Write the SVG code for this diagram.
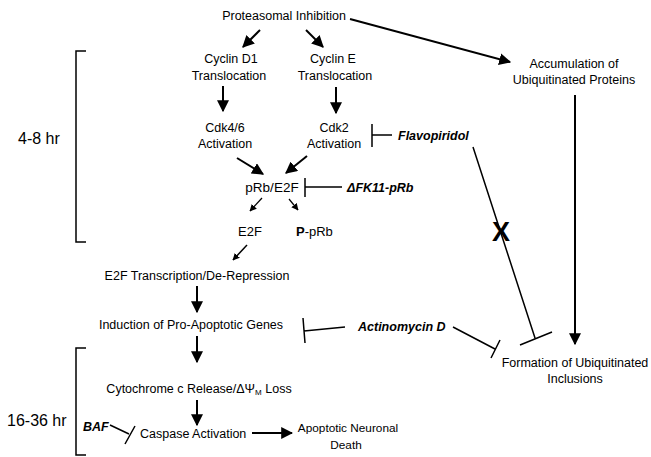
<svg xmlns="http://www.w3.org/2000/svg" width="651" height="457" viewBox="0 0 651 457">
<defs>
<style>
text{font-family:"Liberation Sans",Arial,sans-serif;font-size:12.5px;fill:#000}
.c{text-anchor:middle}
.bi{font-weight:bold;font-style:italic}
.big{font-size:13.5px}
.med{font-size:13px}
.sm{font-size:11.8px}
.hr{font-size:16px}
.sub{font-size:8px}
.xx{font-size:27px;font-weight:bold}
.ln{stroke:#000;stroke-width:2;fill:none}
.th{stroke:#000;stroke-width:1.5;fill:none}
.thin{stroke:#000;stroke-width:1.2;fill:none}
</style>
<marker id="ahL" viewBox="0 0 10 10" refX="9" refY="5" markerWidth="12" markerHeight="12" markerUnits="userSpaceOnUse" orient="auto">
<path d="M0,0 L10,5 L0,10 Z" fill="#000"/>
</marker>
<marker id="ahS" viewBox="0 0 10 10" refX="9" refY="5" markerWidth="7" markerHeight="7" markerUnits="userSpaceOnUse" orient="auto">
<path d="M0,0 L10,5 L0,10 Z" fill="#000"/>
</marker>
</defs>
<rect width="651" height="457" fill="#fff"/>

<g id="n-proteasomal"><text class="c" x="284" y="20">Proteasomal Inhibition</text></g>
<g id="n-cyclinD1"><text class="c" x="231" y="63">Cyclin D1</text><text class="c" x="229" y="80">Translocation</text></g>
<g id="n-cyclinE"><text class="c" x="333" y="63">Cyclin E</text><text class="c" x="335" y="80">Translocation</text></g>
<g id="n-cdk46"><text class="c" x="225" y="132">Cdk4/6</text><text class="c" x="225" y="148">Activation</text></g>
<g id="n-cdk2"><text class="c" x="334" y="132">Cdk2</text><text class="c" x="334" y="148">Activation</text></g>
<g id="n-flavo"><text class="bi" x="398" y="140">Flavopiridol</text></g>
<g id="n-prb"><text class="c big" x="272" y="192">pRb/E2F</text></g>
<g id="n-dfk"><text class="bi" x="347" y="192">ΔFK11-pRb</text></g>
<g id="n-e2f"><text class="c med" x="250" y="236">E2F</text></g>
<g id="n-pprb"><text class="med" x="296" y="236"><tspan font-weight="bold">P</tspan>-pRb</text></g>
<g id="n-e2ftx"><text class="c" x="197" y="280">E2F Transcription/De-Repression</text></g>
<g id="n-induction"><text class="c" x="191" y="329">Induction of Pro-Apoptotic Genes</text></g>
<g id="n-actino"><text class="bi" x="358" y="331">Actinomycin D</text></g>
<g id="n-cytc"><text class="c" x="199" y="393">Cytochrome c Release/ΔΨ<tspan class="sub" dy="2">M</tspan><tspan dy="-2"> Loss</tspan></text></g>
<g id="n-baf"><text class="bi" x="83" y="431">BAF</text></g>
<g id="n-caspase"><text x="140" y="438">Caspase Activation</text></g>
<g id="n-death"><text class="c sm" x="348" y="432">Apoptotic Neuronal</text><text class="c sm" x="346" y="449">Death</text></g>
<g id="n-accum"><text class="c" x="574" y="68">Accumulation of</text><text class="c" x="574" y="84">Ubiquitinated Proteins</text></g>
<g id="n-formation"><text class="c" x="575" y="367">Formation of Ubiquitinated</text><text class="c" x="575" y="383">Inclusions</text></g>
<g id="n-48"><text class="hr" x="18" y="144">4-8 hr</text><path class="th" d="M86,51 H76 V242 H86"/></g>
<g id="n-1636"><text class="hr" x="7" y="426">16-36 hr</text><path class="th" d="M86,348 H76 V455 H86"/></g>

<g id="connectors">
<path class="ln" d="M260,30 L243,47" marker-end="url(#ahL)"/>
<path class="ln" d="M306,30 L323,47" marker-end="url(#ahL)"/>
<path class="ln" d="M350,19 L510,62" marker-end="url(#ahL)"/>
<path class="ln" d="M223,86 L223,111" marker-end="url(#ahL)"/>
<path class="ln" d="M336,87 L336,113" marker-end="url(#ahL)"/>
<path class="ln" d="M575,95 L575,344" marker-end="url(#ahL)"/>
<path class="ln" d="M237,158 L263,174" marker-end="url(#ahL)"/>
<path class="ln" d="M307,156 L286,173" marker-end="url(#ahL)"/>
<path class="th" d="M372,124 V147 M372,135 H392"/>
<path class="th" d="M305,178 V197 M305,187 H342"/>
<path class="thin" d="M262,198 L250,211" marker-end="url(#ahS)"/>
<path class="thin" d="M289,199 L298,210" marker-end="url(#ahS)"/>
<path class="th" d="M247,245 L233,260" marker-end="url(#ahS)"/>
<path class="ln" d="M197,286 L197,312" marker-end="url(#ahL)"/>
<path class="th" d="M303,318 L305,343 M304,331 L345,327"/>
<path class="ln" d="M197,336 L197,362" marker-end="url(#ahL)"/>
<path class="ln" d="M197,400 L197,425" marker-end="url(#ahL)"/>
<path class="ln" d="M252,433 L292,433" marker-end="url(#ahL)"/>
<path class="th" d="M110,425 L129,434 M125,444 L135,426"/>
<path class="th" d="M453,327 L495,349 M500,340 L491,358"/>
<path class="th" d="M473,147 L535,338 M520,345 L552,332"/>
</g>
<g id="n-x"><text class="c xx" x="501" y="241">X</text></g>
</svg>
